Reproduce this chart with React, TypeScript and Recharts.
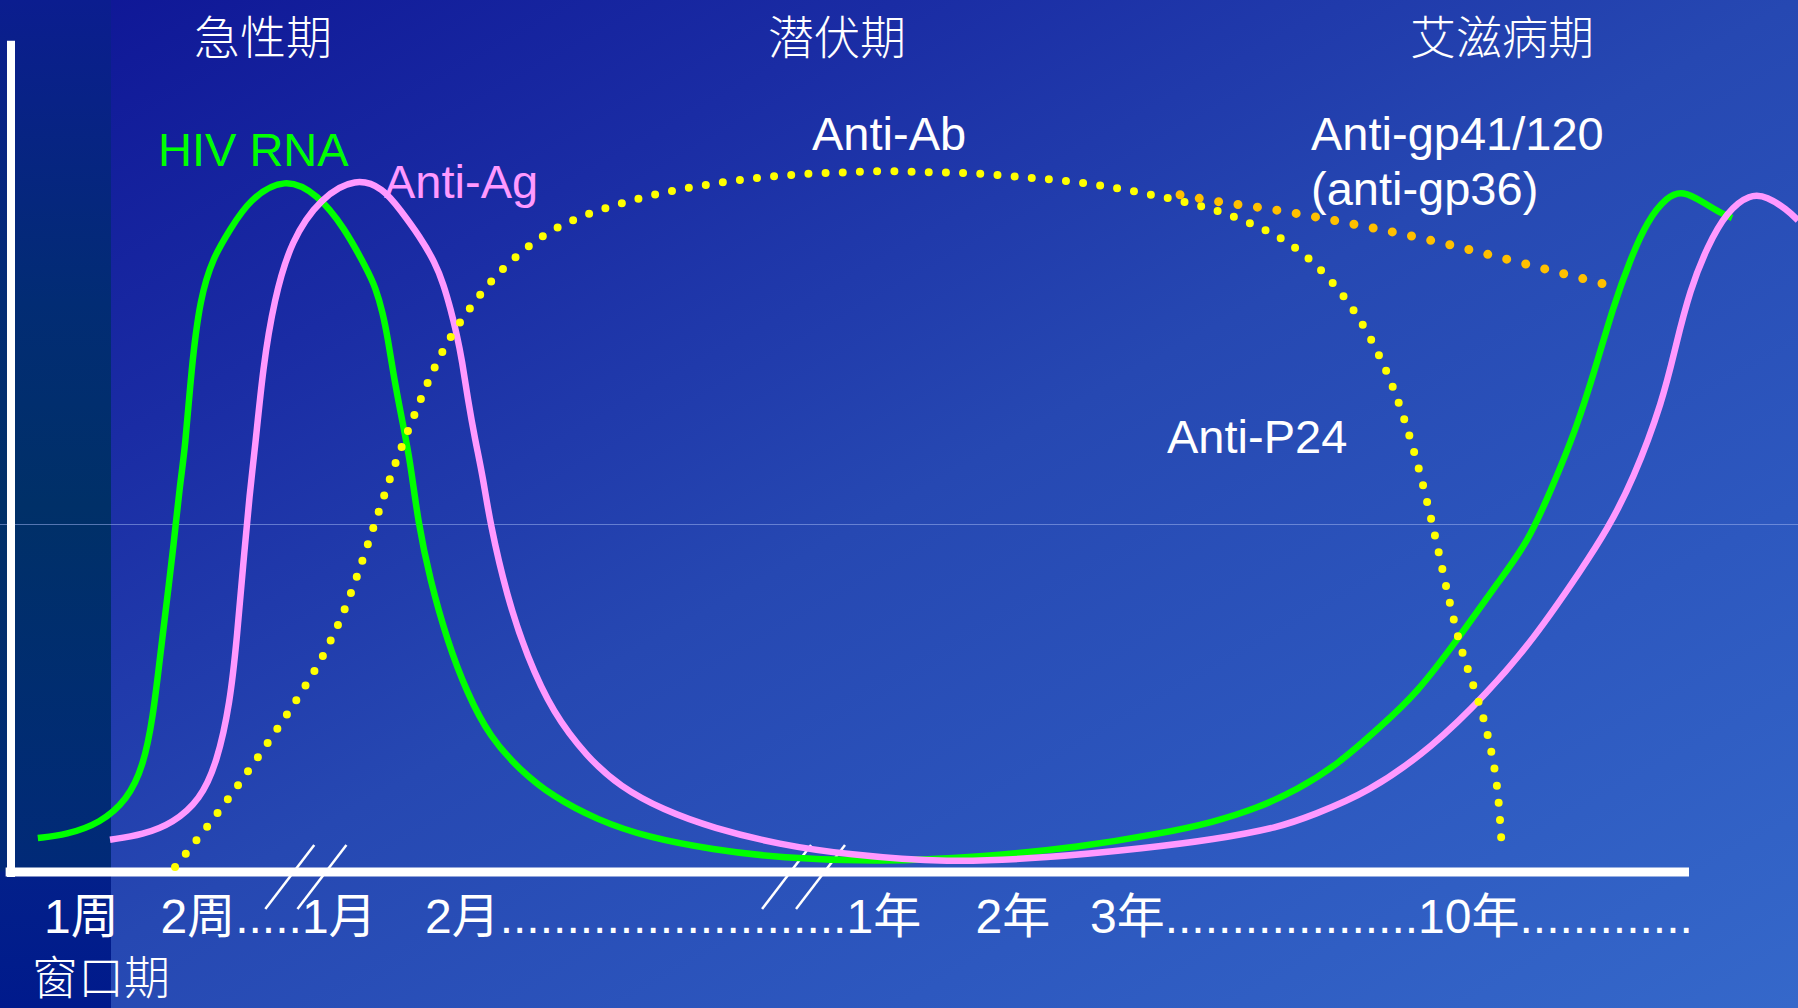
import React from 'react';
import { LineChart, Line, XAxis, YAxis, ReferenceLine } from 'recharts';

const W = 1798;
const H = 1008;

// x: position along the (broken) time axis, 0..100 ; y: relative level, 0..100
const hivRna = [
  { x: 1.5, y: 4.1 }, { x: 3.1, y: 4.5 }, { x: 5.0, y: 5.9 }, { x: 6.5, y: 8.7 },
  { x: 7.4, y: 12.7 }, { x: 7.95, y: 18.7 }, { x: 8.34, y: 26.0 }, { x: 8.73, y: 32.9 },
  { x: 9.07, y: 38.9 }, { x: 9.46, y: 47.0 }, { x: 9.74, y: 51.0 }, { x: 10.1, y: 61.0 },
  { x: 10.58, y: 69.3 }, { x: 11.3, y: 74.2 },
  { x: 12.26, y: 77.6 }, { x: 13.32, y: 81.2 }, { x: 15.33, y: 84.0 }, { x: 17.18, y: 81.8 },
  { x: 18.63, y: 77.9 }, { x: 19.92, y: 72.8 }, { x: 20.4, y: 70.6 }, { x: 20.8, y: 67.6 },
  { x: 21.1, y: 64.3 },
  { x: 21.38, y: 60.3 }, { x: 21.88, y: 54.6 }, { x: 22.33, y: 49.8 }, { x: 22.78, y: 42.2 },
  { x: 23.45, y: 35.3 }, { x: 24.4, y: 28.0 }, { x: 25.52, y: 21.6 }, { x: 26.8, y: 16.3 },
  { x: 28.48, y: 12.3 }, { x: 30.33, y: 9.1 }, { x: 32.79, y: 6.3 }, { x: 35.59, y: 4.2 },
  { x: 39.28, y: 2.7 }, { x: 43.03, y: 1.7 }, { x: 48.63, y: 1.2 }, { x: 54.22, y: 1.8 },
  { x: 59.82, y: 3.0 }, { x: 64.47, y: 4.7 }, { x: 67.26, y: 6.0 }, { x: 69.73, y: 7.7 },
  { x: 71.96, y: 9.9 }, { x: 74.2, y: 12.9 }, { x: 76.61, y: 17.5 }, { x: 78.68, y: 21.6 },
  { x: 80.92, y: 28.0 }, { x: 83.32, y: 35.3 }, { x: 84.84, y: 39.7 }, { x: 86.12, y: 45.8 },
  { x: 87.63, y: 53.7 }, { x: 88.75, y: 61.5 }, { x: 89.65, y: 68.2 }, { x: 90.6, y: 73.9 },
  { x: 91.55, y: 78.6 }, { x: 92.67, y: 81.6 }, { x: 93.57, y: 82.3 }, { x: 94.68, y: 80.9 },
  { x: 95.64, y: 79.6 }, { x: 96.31, y: 79.0 },
];

const antiAg = [
  { x: 5.54, y: 3.9 }, { x: 7.39, y: 4.5 }, { x: 9.07, y: 5.9 }, { x: 10.58, y: 8.7 },
  { x: 11.53, y: 13.2 }, { x: 12.26, y: 20.4 }, { x: 12.65, y: 28.4 }, { x: 12.98, y: 36.8 },
  { x: 13.37, y: 46.1 }, { x: 13.65, y: 51.0 }, { x: 14.1, y: 61.0 }, { x: 14.72, y: 69.1 },
  { x: 15.67, y: 76.3 },
  { x: 17.35, y: 81.5 }, { x: 19.31, y: 83.9 }, { x: 20.82, y: 82.6 }, { x: 21.77, y: 80.0 },
  { x: 22.89, y: 76.7 }, { x: 23.73, y: 73.6 }, { x: 24.2, y: 71.0 }, { x: 24.6, y: 68.0 },
  { x: 24.95, y: 64.9 },
  { x: 25.24, y: 61.8 }, { x: 25.57, y: 57.0 }, { x: 25.97, y: 52.2 }, { x: 26.41, y: 47.7 },
  { x: 26.8, y: 42.2 }, { x: 27.76, y: 33.2 }, { x: 28.88, y: 26.0 }, { x: 30.33, y: 19.2 },
  { x: 32.23, y: 13.9 }, { x: 34.08, y: 10.3 }, { x: 36.49, y: 7.5 }, { x: 39.28, y: 5.3 },
  { x: 43.03, y: 3.3 }, { x: 46.78, y: 2.1 }, { x: 52.38, y: 1.1 }, { x: 57.97, y: 1.7 },
  { x: 63.57, y: 2.9 }, { x: 67.26, y: 3.9 }, { x: 71.01, y: 5.4 }, { x: 72.86, y: 6.9 },
  { x: 75.88, y: 9.5 }, { x: 79.57, y: 15.1 }, { x: 82.6, y: 21.6 }, { x: 85.17, y: 28.0 },
  { x: 87.97, y: 36.8 }, { x: 89.31, y: 41.3 }, { x: 90.77, y: 47.3 }, { x: 92.45, y: 57.0 },
  { x: 93.17, y: 63.7 }, { x: 93.96, y: 70.3 }, { x: 94.91, y: 75.5 }, { x: 96.03, y: 79.8 },
  { x: 97.31, y: 81.9 }, { x: 98.27, y: 81.6 }, { x: 99.38, y: 80.0 }, { x: 100, y: 78.7 },
];

const antiAbP24 = [
  { x: 9.18, y: 0.6 }, { x: 10.97, y: 5.4 }, { x: 12.7, y: 10.4 }, { x: 14.38, y: 15.6 },
  { x: 16.0, y: 20.8 }, { x: 17.52, y: 26.1 }, { x: 18.75, y: 31.9 }, { x: 19.7, y: 37.8 },
  { x: 20.31, y: 41.8 }, { x: 20.93, y: 45.8 }, { x: 21.54, y: 49.6 }, { x: 22.27, y: 53.6 },
  { x: 23.0, y: 57.5 }, { x: 23.78, y: 61.4 }, { x: 24.68, y: 65.0 }, { x: 25.8, y: 68.5 },
  { x: 26.97, y: 71.7 }, { x: 28.37, y: 74.6 }, { x: 29.94, y: 77.2 }, { x: 31.67, y: 79.0 },
  { x: 33.52, y: 80.4 }, { x: 35.37, y: 81.5 }, { x: 37.27, y: 82.4 }, { x: 39.17, y: 83.1 },
  { x: 41.13, y: 83.7 }, { x: 43.03, y: 84.1 }, { x: 44.99, y: 84.4 }, { x: 46.89, y: 84.5 },
  { x: 48.85, y: 84.7 }, { x: 50.81, y: 84.5 }, { x: 52.71, y: 84.5 }, { x: 54.67, y: 84.3 },
  { x: 56.63, y: 83.9 }, { x: 58.53, y: 83.6 }, { x: 60.49, y: 83.1 }, { x: 62.39, y: 82.4 },
  { x: 64.3, y: 81.6 }, { x: 66.2, y: 80.7 }, { x: 68.05, y: 79.5 }, { x: 69.89, y: 77.9 },
  { x: 71.57, y: 76.0 }, { x: 73.08, y: 73.3 }, { x: 74.37, y: 70.2 }, { x: 75.49, y: 66.8 },
  { x: 76.44, y: 63.0 }, { x: 77.22, y: 59.3 }, { x: 77.89, y: 55.3 }, { x: 78.45, y: 51.3 },
  { x: 78.96, y: 47.3 }, { x: 79.41, y: 43.2 }, { x: 79.85, y: 39.1 }, { x: 80.25, y: 35.0 },
  { x: 80.69, y: 30.9 }, { x: 81.14, y: 26.9 }, { x: 81.76, y: 23.0 }, { x: 82.37, y: 19.0 },
  { x: 82.82, y: 14.9 }, { x: 83.16, y: 10.8 }, { x: 83.32, y: 6.6 }, { x: 83.44, y: 2.4 },
];

const antiGp = [
  { x: 65.42, y: 81.8 }, { x: 67.6, y: 80.9 }, { x: 69.84, y: 80.3 }, { x: 72.08, y: 79.5 },
  { x: 74.26, y: 78.6 }, { x: 76.44, y: 77.7 }, { x: 78.62, y: 76.7 }, { x: 80.86, y: 75.6 },
  { x: 82.99, y: 74.4 }, { x: 85.17, y: 73.2 }, { x: 87.35, y: 72.0 }, { x: 89.54, y: 70.8 },
];

// axis-break positions (x) on the time axis
const axisBreaks = [15.6, 17.4, 43.4, 45.3];

const phaseLabels = ['急性期', '潜伏期', '艾滋病期'];
const timeLabels = [
  '1周',
  '2周.....1月',
  '2月..........................1年',
  '2年',
  '3年...................10年.............',
];
const windowLabel = '窗口期';
const seriesLabels = ['HIV RNA', 'Anti-Ag', 'Anti-Ab', 'Anti-gp41/120', '(anti-gp36)', 'Anti-P24'];

const LATIN = "'Liberation Sans', Arial, 'Noto Sans CJK SC', sans-serif";
const CJK = "'Noto Sans CJK SC', 'Noto Sans CJK JP', sans-serif";

export default function App() {
  const phaseX = [263, 837, 1502];
  const timeX = [44, 160.5, 425, 975.5, 1090];
  const seriesPos = [
    { x: 158, y: 166, fill: '#00FF00' },
    { x: 384, y: 198, fill: '#FF99FF' },
    { x: 812, y: 150, fill: '#FFFFFF' },
    { x: 1311, y: 150, fill: '#FFFFFF' },
    { x: 1311, y: 205, fill: '#FFFFFF' },
    { x: 1167, y: 453, fill: '#FFFFFF' },
  ];

  return (
    <div style={{ position: 'absolute', left: 0, top: 0, width: W, height: H, overflow: 'hidden' }}>
      <svg width={W} height={H} style={{ position: 'absolute', left: 0, top: 0 }}>
        <defs>
          <linearGradient id="bg" x1="0" y1="0" x2="1" y2="1">
            <stop offset="0" stopColor="#0e1595" />
            <stop offset="0.25" stopColor="#1a2ca4" />
            <stop offset="0.5" stopColor="#2648b2" />
            <stop offset="0.75" stopColor="#2d58bf" />
            <stop offset="1" stopColor="#3568ca" />
          </linearGradient>
          <linearGradient id="strip" x1="0" y1="0" x2="0" y2="1">
            <stop offset="0" stopColor="#0b1d8f" />
            <stop offset="0.3" stopColor="#022c74" />
            <stop offset="0.5" stopColor="#003068" />
            <stop offset="0.862" stopColor="#012a78" />
            <stop offset="0.866" stopColor="#03208a" />
            <stop offset="1" stopColor="#001a8c" />
          </linearGradient>
        </defs>
        <rect x={0} y={0} width={W} height={H} fill="url(#bg)" />
        <rect x={0} y={0} width={111} height={H} fill="url(#strip)" />
        <line x1={0} x2={W} y1={524.5} y2={524.5} stroke="#9ab0ee" strokeOpacity={0.55} strokeWidth={1} />
      </svg>

      <div style={{ position: 'absolute', left: 0, top: 0 }}>
        <LineChart width={W} height={H} margin={{ top: 44, right: 0, bottom: 136, left: 11 }}>
          <XAxis type="number" dataKey="x" domain={[0, 100]} hide />
          <YAxis type="number" domain={[0, 100]} hide width={0} />
          <ReferenceLine
            segment={[{ x: 0, y: -0.6 }, { x: 0, y: 100.4 }]}
            stroke="#FFFFFF" strokeWidth={8} ifOverflow="visible"
          />
          <ReferenceLine
            segment={[{ x: -0.3, y: 0 }, { x: 93.9, y: 0 }]}
            stroke="#FFFFFF" strokeWidth={9} ifOverflow="visible"
          />
          {axisBreaks.map((bx, i) => (
            <ReferenceLine
              key={'br' + i}
              segment={[{ x: bx + 1.37, y: 3.26 }, { x: bx - 1.37, y: -4.47 }]}
              stroke="#FFFFFF" strokeWidth={2.5} ifOverflow="visible"
            />
          ))}
          <Line data={hivRna} dataKey="y" type="basis" stroke="#00FF00" strokeWidth={6.5}
            dot={false} activeDot={false} isAnimationActive={false} />
          <Line data={antiAg} dataKey="y" type="basis" stroke="#FF99FF" strokeWidth={6.5}
            dot={false} activeDot={false} isAnimationActive={false} />
          <Line data={antiAbP24} dataKey="y" type="basis" stroke="#FFFF00" strokeWidth={8}
            strokeDasharray="0 17.2" strokeLinecap="round"
            dot={false} activeDot={false} isAnimationActive={false} />
          <Line data={antiGp} dataKey="y" type="basis" stroke="#FFC000" strokeWidth={9}
            strokeDasharray="0 19.6" strokeLinecap="round"
            dot={false} activeDot={false} isAnimationActive={false} />
        </LineChart>
      </div>

      <svg width={W} height={H} style={{ position: 'absolute', left: 0, top: 0, pointerEvents: 'none' }}>
        {phaseLabels.map((t, i) => (
          <text key={'p' + i} x={phaseX[i]} y={54} textAnchor="middle" fill="#FFFFFF"
            fontSize={46} fontWeight={300} fontFamily={CJK}>{t}</text>
        ))}
        {seriesLabels.map((t, i) => (
          <text key={'s' + i} x={seriesPos[i].x} y={seriesPos[i].y} fill={seriesPos[i].fill}
            fontSize={47} fontFamily={LATIN}>{t}</text>
        ))}
        {timeLabels.map((t, i) => (
          <text key={'t' + i} x={timeX[i]} y={933} fill="#FFFFFF"
            fontSize={48} fontFamily={LATIN}>{t}</text>
        ))}
        <text x={32} y={994} fill="#FFFFFF" fontSize={46} fontWeight={300} fontFamily={CJK}>{windowLabel}</text>
      </svg>
    </div>
  );
}
